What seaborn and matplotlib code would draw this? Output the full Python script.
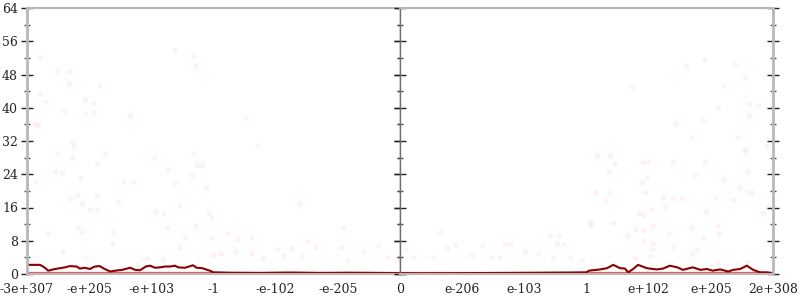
import matplotlib
matplotlib.use("Agg")
import matplotlib.pyplot as plt
import seaborn as sns
import pandas as pd
from matplotlib.ticker import MultipleLocator, FixedLocator

# ---------------- data ----------------
tick_pos_left = [-6, -5, -4, -3, -2, -1, 0]
tick_lab_left = ["-3e+307", "-e+205", "-e+103", "-1", "-e-102", "-e-205", "0"]
tick_pos_right = [1, 2, 3, 4, 5, 6]
tick_lab_right = ["e-206", "e-103", "1", "e+102", "e+205", "2e+308"]

# average error line (ordinal position, bits of error)
line_x = [-6.0, -5.79, -5.71, -5.66, -5.55, -5.39, -5.31, -5.20, -5.15, -5.07,
          -4.99, -4.91, -4.83, -4.75, -4.66, -4.58, -4.47, -4.34, -4.26, -4.18,
          -4.09, -4.02, -3.94, -3.86, -3.78, -3.70, -3.62, -3.57, -3.46, -3.33,
          -3.27, -3.18, -3.06, -3.0, -2.73, -2.25, -1.77, -1.29, -0.80, -0.32,
          0.0, 0.32, 0.97, 1.61, 2.25, 2.73, 3.0, 3.04, 3.22, 3.33,
          3.43, 3.54, 3.62, 3.67, 3.75, 3.83, 3.97, 4.13, 4.23, 4.34,
          4.46, 4.55, 4.71, 4.83, 4.94, 5.03, 5.15, 5.28, 5.36, 5.47,
          5.58, 5.68, 5.79, 5.90, 6.0]
line_y = [2.2, 2.2, 1.5, 0.8, 1.2, 1.6, 1.9, 1.8, 1.3, 1.5,
          1.2, 1.8, 1.9, 1.2, 0.6, 0.8, 1.0, 1.5, 1.0, 0.9,
          1.8, 2.0, 1.5, 1.6, 1.8, 1.8, 2.0, 1.6, 1.5, 2.1,
          1.5, 1.4, 0.8, 0.4, 0.3, 0.25, 0.35, 0.25, 0.3, 0.25,
          0.2, 0.15, 0.2, 0.25, 0.3, 0.35, 0.4, 0.8, 1.1, 1.4,
          2.2, 1.4, 1.3, 0.4, 1.2, 2.2, 1.4, 1.1, 1.3, 2.0,
          1.6, 1.0, 1.6, 1.0, 1.2, 0.8, 1.1, 0.6, 1.0, 1.2,
          2.0, 1.0, 0.4, 0.4, 0.2]

# dense band of exact (zero-error) samples
zero_x = [-6.0, 6.0]
zero_y = [0.0, 0.0]

# individual sample errors (faint points)
pts_x = [-5.79, -5.52, -5.32, -5.32, -5.79, -5.71, -5.07, -4.94, -5.40, -5.05,
         -4.92, -5.87, -5.82, -5.28, -5.24, -4.84,
         -5.52, -5.28, -4.75, -4.87, -5.15, -5.55, -5.44, -5.87, -5.31, -5.20,
         -5.12, -4.87, -4.99, -4.87, -4.54, -4.46, -4.29, -3.96, -3.73, -3.62,
         -3.35, -3.27, -3.33, -3.94, -3.81, -3.54, -3.75, -3.30, -3.46, -4.63,
         -4.62, -5.12, -5.66, -5.42, -5.18, -4.21, -4.07, -3.81, -3.54,
         -3.18, -3.12, -3.07, -3.04, -1.61, -0.92, -2.78, -2.62, -2.40, -3.02,
         -1.50, -1.98, -1.74, -1.37, -0.95, -0.60, -0.35, -2.88, -2.65, -2.38,
         -3.01, -2.20, -1.88, -1.58, -0.85, -0.21, -0.05,
         3.17, 3.14, 3.06, 3.07, 0.64, 0.08, 0.76, 0.88, 1.32, 1.69,
         1.77, 2.01, 2.41, 2.56, 2.53, 2.62, 0.21, 0.53, 1.16, 1.48,
         1.61, 2.22, 2.46, 2.73, 2.93,
         3.38, 3.46, 3.91, 3.99, 4.39, 4.91, 5.55, 3.36, 3.89, 3.97,
         4.75, 5.20, 5.58, 3.31, 3.38, 3.94, 4.23, 4.39, 4.54, 5.07,
         5.36, 5.47, 5.60, 5.66, 5.92, 5.84, 3.84, 3.91, 4.05, 4.26,
         4.92, 3.43, 3.78, 3.91, 4.07, 4.70, 5.10, 5.13, 3.67, 4.33,
         3.91, 4.07, 4.39, 4.87, 4.78, 4.05, 3.78, 4.02, 4.70, 5.10, 5.58,
         4.89, 5.39, 5.55, 5.21, 5.61, 5.76, 5.11, 5.61, 4.87, 5.44, 5.90, 5.55,
         -4.34, -3.62, -3.30, -3.33, -2.48, -2.30, 3.73, 4.60, 4.43, 4.70]
pts_y = [52.2, 48.8, 48.8, 46.0, 43.3, 41.4, 42.1, 41.1, 39.2, 38.7,
         39.0, 36.1, 35.9, 31.8, 30.8, 45.5,
         29.1, 28.2, 28.9, 26.7, 23.1, 24.5, 24.3, 22.1, 18.0, 19.0,
         17.1, 18.8, 15.6, 15.4, 17.3, 22.4, 22.1, 28.2, 25.0, 21.9,
         23.8, 26.2, 29.1, 14.9, 14.7, 16.6, 11.1, 11.5, 8.9, 7.2,
         10.1, 10.1, 9.9, 5.3, 11.3, 2.2, 3.8, 3.4, 6.5,
         26.2, 20.7, 14.7, 13.5, 17.1, 11.3, 9.9, 8.4, 8.9, 8.7,
         7.9, 6.0, 6.3, 6.5, 6.5, 5.3, 7.0, 5.1, 5.5, 5.1,
         4.6, 3.8, 4.3, 4.3, 3.4, 4.1, 3.4,
         28.4, 19.7, 12.5, 11.8, 10.1, 5.8, 6.3, 7.0, 7.0, 7.2,
         7.2, 5.5, 9.4, 9.1, 7.2, 7.2, 4.1, 4.1, 4.6, 4.1,
         3.8, 5.1, 3.8, 3.8, 3.4,
         28.6, 26.7, 26.9, 26.9, 26.9, 26.9, 29.4, 24.8, 22.1, 23.1,
         23.8, 22.9, 24.5, 17.6, 19.5, 19.7, 18.5, 18.3, 18.3, 18.3,
         17.8, 20.9, 19.7, 19.5, 16.1, 14.7, 14.7, 14.2, 15.4, 16.1,
         14.9, 12.3, 10.8, 10.6, 11.5, 11.1, 11.8, 9.8, 9.1, 9.6,
         7.9, 7.5, 6.5, 8.7, 5.8, 6.0, 3.8, 4.3, 4.8, 2.6, 2.9,
         51.5, 50.5, 47.4, 45.2, 40.9, 40.7, 40.2, 38.0, 37.1, 33.0, 30.8, 30.1,
         38.0, 54.0, 50.0, 52.5, 37.5, 31.0, 45.0, 50.0, 36.0, 33.0]

y_major = [0, 8, 16, 24, 32, 40, 48, 56, 64]

# ---------------- figure ----------------
sns.set_theme(style="white")
plt.rcParams["font.family"] = ["DejaVu Serif", "DejaVu Sans"]

line_df = pd.DataFrame({"x": line_x, "y": line_y})
zero_df = pd.DataFrame({"x": zero_x, "y": zero_y})
pts_df = pd.DataFrame({"x": pts_x, "y": pts_y})

fig = plt.figure(figsize=(8, 3), dpi=100)
L, R, B, T = 27 / 800, 773 / 800, 1 - 274 / 300, 1 - 8 / 300
mid = 0.5
axL = fig.add_axes([L, B, mid - L, T - B])
axR = fig.add_axes([mid, B, R - mid, T - B])

for ax, xlim in ((axL, (-6, 0)), (axR, (0, 6))):
    sns.scatterplot(data=pts_df, x="x", y="y", ax=ax, color="#e8202a",
                    alpha=0.05, s=16, linewidth=0, legend=False)
    sns.lineplot(data=zero_df, x="x", y="y", ax=ax, color="#e83a44",
                 linewidth=3.8, alpha=0.85, legend=False)
    sns.lineplot(data=line_df, x="x", y="y", ax=ax, color="#8b0000",
                 linewidth=1.5, legend=False)
    ax.set_xlim(*xlim)
    ax.set_ylim(0, 64)
    ax.set_xlabel("")
    ax.set_ylabel("")
    ax.yaxis.set_major_locator(FixedLocator(y_major))
    ax.yaxis.set_minor_locator(MultipleLocator(4))
    ax.tick_params(axis="both", which="major", direction="inout", length=9,
                   width=1, color="#222222", labelsize=9, pad=2)
    ax.tick_params(axis="y", which="minor", direction="inout", length=5,
                   width=1, color="#555555")
    for s in ("top", "bottom"):
        ax.spines[s].set_color("#b8b8b8")
        ax.spines[s].set_linewidth(1.5)

axL.set_xticks(tick_pos_left)
axL.set_xticklabels(tick_lab_left)
axR.set_xticks(tick_pos_right)
axR.set_xticklabels(tick_lab_right)

axL.tick_params(axis="y", which="both", left=True, right=True)
axR.tick_params(axis="y", which="both", left=True, right=True, labelleft=False)

axL.spines["left"].set_color("#b8b8b8")
axL.spines["left"].set_linewidth(2)
axL.spines["right"].set_color("#707070")
axL.spines["right"].set_linewidth(1)
axR.spines["left"].set_color("#707070")
axR.spines["left"].set_linewidth(1)
axR.spines["right"].set_color("#b8b8b8")
axR.spines["right"].set_linewidth(2)

fig.savefig("out.png", dpi=100, facecolor="white")
